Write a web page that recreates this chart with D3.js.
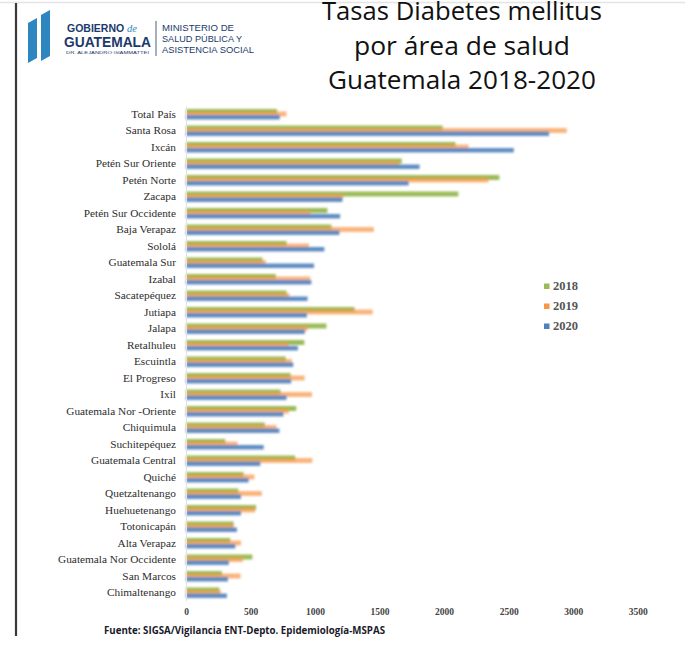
<!DOCTYPE html>
<html><head><meta charset="utf-8">
<script src="https://cdn.jsdelivr.net/npm/d3@7"></script>
<style>body{margin:0;background:#fff;overflow:hidden}</style></head>
<body><svg id="c" width="696" height="658"></svg>
<script>
const categories = ["Total País","Santa Rosa","Ixcán","Petén Sur Oriente","Petén Norte","Zacapa","Petén Sur Occidente","Baja Verapaz","Sololá","Guatemala Sur","Izabal","Sacatepéquez","Jutiapa","Jalapa","Retalhuleu","Escuintla","El Progreso","Ixil","Guatemala Nor -Oriente","Chiquimula","Suchitepéquez","Guatemala Central","Quiché","Quetzaltenango","Huehuetenango","Totonicapán","Alta Verapaz","Guatemala Nor Occidente","San Marcos","Chimaltenango"];
const years = ["2018","2019","2020"];
const v2018 = [706,1989,2088,1672,2428,2110,1096,1127,779,592,696,779,1306,1088,917,773,810,732,854,610,304,846,446,405,543,369,343,514,278,259];
const v2019 = [779,2950,2190,1654,2343,1217,966,1456,953,618,963,802,1446,942,797,820,919,976,797,701,400,979,530,587,535,369,426,441,423,270];
const v2020 = [727,2813,2540,1810,1725,1212,1194,1189,1072,992,971,942,937,921,867,831,815,779,755,724,602,576,485,426,426,395,382,332,325,317];
const xTicks = [0,500,1000,1500,2000,2500,3000,3500];
const colors = {"2018":"#9BBB59","2019":"#F79646","2020":"#4F81BD"};
const seriesValues = {"2018":v2018,"2019":v2019,"2020":v2020};

const svg = d3.select("#c");
const defs = svg.append("defs");
defs.append("filter").attr("id","soft").attr("x","-2%").attr("y","-20%").attr("width","104%").attr("height","140%")
  .append("feGaussianBlur").attr("stdDeviation","0.8");

// frame lines (photo edges)
svg.append("line").attr("x1",0).attr("x2",685).attr("y1",2.5).attr("y2",2.5).attr("stroke","#e4e4e4").attr("stroke-width",1.5);
svg.append("line").attr("x1",16).attr("x2",16).attr("y1",3).attr("y2",636).attr("stroke","#3a3a3a").attr("stroke-width",2.2);

// logo
const logo = svg.append("g");
logo.append("polygon").attr("points","28,23 37,18 37,58 28,63").attr("fill","#2E86C1");
logo.append("polygon").attr("points","41,15 50,10 50,56 41,61").attr("fill","#2E86C1");
logo.append("text").attr("x",67).attr("y",32).attr("font-family","Liberation Sans, Arial, sans-serif").attr("font-weight","bold").attr("font-size",10.5).attr("fill","#1B3A6B")
  .text("GOBIERNO ").append("tspan").attr("font-family","Liberation Serif, serif").attr("font-style","italic").attr("font-weight","normal").attr("fill","#2E86C1").text("de");
logo.append("text").attr("x",64).attr("y",47).attr("font-family","Liberation Sans, Arial, sans-serif").attr("font-weight","bold").attr("font-size",14).attr("fill","#1B3A6B").attr("textLength",87).attr("lengthAdjust","spacingAndGlyphs").text("GUATEMALA");
logo.append("text").attr("x",66).attr("y",54).attr("font-family","Liberation Sans, Arial, sans-serif").attr("font-size",3.5).attr("fill","#1B3A6B").attr("textLength",83).attr("lengthAdjust","spacingAndGlyphs").text("DR. ALEJANDRO GIAMMATTEI");
logo.append("line").attr("x1",156).attr("x2",156).attr("y1",21).attr("y2",56).attr("stroke","#1B3A6B").attr("stroke-width",0.8);
[["MINISTERIO DE",31,72],["SALUD PÚBLICA Y",42,80],["ASISTENCIA SOCIAL",53,92]].forEach(d=>{
  logo.append("text").attr("x",162).attr("y",d[1]).attr("font-family","Liberation Sans, Arial, sans-serif").attr("font-size",9.5).attr("fill","#1B3A6B").attr("textLength",d[2]).attr("lengthAdjust","spacingAndGlyphs").text(d[0]);
});

// title
[["Tasas Diabetes mellitus",20,280],["por área de salud",55,216],["Guatemala 2018-2020",89,268]].forEach(d=>{
  svg.append("text").attr("x",462).attr("y",d[1]).attr("text-anchor","middle").attr("font-family","Open Sans, Noto Sans, sans-serif").attr("font-size",25.5).attr("fill","#111")
    .attr("textLength",d[2]).attr("lengthAdjust","spacingAndGlyphs").text(d[0]);
});

// scales
const x = d3.scaleLinear().domain([0,3500]).range([186,637.7]);
const y = d3.scaleBand().domain(categories).range([106,601]).paddingInner(0).paddingOuter(0);

// bars
const barStyle = {"2018":{off:3,h:5,op:1},"2019":{off:5.5,h:5,op:0.7},"2020":{off:9,h:4.5,op:0.9}};
const bars = svg.append("g").attr("filter","url(#soft)");
years.forEach(yr=>{
  bars.append("g").selectAll("rect").data(categories).join("rect")
    .attr("x",x(0))
    .attr("y",(c)=>y(c)+barStyle[yr].off)
    .attr("width",(c,i)=>x(seriesValues[yr][i])-x(0))
    .attr("height",barStyle[yr].h)
    .attr("fill",colors[yr])
    .attr("fill-opacity",barStyle[yr].op);
});

// y axis
const yAxis = svg.append("g").attr("transform",`translate(${x(0)},0)`)
  .call(d3.axisLeft(y).tickSize(0).tickPadding(10));
yAxis.select(".domain").attr("stroke","#dde3ea");
yAxis.selectAll("text").attr("font-family","Liberation Serif, Times New Roman, serif").attr("font-size",11.3).attr("fill","#2d2d2d");

// x axis
const xAxis = svg.append("g").attr("transform","translate(0,605)")
  .call(d3.axisBottom(x).tickValues(xTicks).tickSize(0).tickPadding(3).tickFormat(d3.format("d")));
xAxis.select(".domain").remove();
xAxis.selectAll("text").attr("font-family","Liberation Serif, Times New Roman, serif").attr("font-weight","bold").attr("font-size",9.5).attr("fill","#444");

// legend
const lg = svg.append("g");
years.forEach((yr,i)=>{
  const cy = 286 + i*20;
  lg.append("rect").attr("x",544).attr("y",cy-2.5).attr("width",5.5).attr("height",5.5).attr("fill",colors[yr]);
  lg.append("text").attr("x",553).attr("y",cy).attr("dy","0.35em").attr("font-family","Liberation Serif, Times New Roman, serif").attr("font-weight","bold").attr("font-size",12.5).attr("fill","#555").text(yr);
});

// source
svg.append("text").attr("x",104).attr("y",634).attr("font-family","Open Sans, Noto Sans, sans-serif").attr("font-weight","bold").attr("font-size",10.5).attr("fill","#1a1a2a")
  .attr("textLength",281).attr("lengthAdjust","spacingAndGlyphs").text("Fuente: SIGSA/Vigilancia ENT-Depto. Epidemiología-MSPAS");
</script></body></html>
